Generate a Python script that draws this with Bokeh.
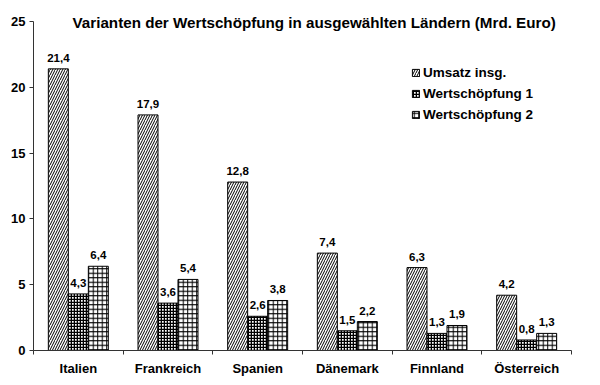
from bokeh.plotting import figure
from bokeh.models import (Range1d, FixedTicker, Label, Legend, LegendItem,
                          ColumnDataSource, LabelSet)
from bokeh.core.properties import value
from bokeh.embed import file_html
from bokeh.resources import INLINE

countries = ["Italien", "Frankreich", "Spanien", "Dänemark", "Finnland", "Österreich"]
umsatz = [21.4, 17.9, 12.8, 7.4, 6.3, 4.2]
ws1 = [4.3, 3.6, 2.6, 1.5, 1.3, 0.8]
ws2 = [6.4, 5.4, 3.8, 2.2, 1.9, 1.3]
series_names = ["Umsatz insg.", "Wertschöpfung 1", "Wertschöpfung 2"]
y_ticks = [0, 5, 10, 15, 20, 25]
y_max = 25
title_text = "Varianten der Wertschöpfung in ausgewählten Ländern (Mrd. Euro)"

FONT = "Liberation Sans"
BW = 0.223

p = figure(width=600, height=385, output_backend="svg", toolbar_location=None,
           x_range=Range1d(0, 6), y_range=Range1d(0, 26.29),
           min_border_left=33, min_border_right=29, min_border_top=4,
           min_border_bottom=35)
p.outline_line_color = None
p.xgrid.visible = False
p.ygrid.visible = False
p.background_fill_color = "white"
p.border_fill_color = "white"

centers = [i + 0.5 for i in range(len(countries))]
p.xaxis.ticker = FixedTicker(ticks=centers, minor_ticks=list(range(len(countries) + 1)))
p.xaxis.major_label_overrides = {c: n for c, n in zip(centers, countries)}
p.xaxis.major_tick_out = 0
p.xaxis.major_tick_in = 0
p.xaxis.minor_tick_out = 4
p.xaxis.minor_tick_in = 0
p.xaxis.major_label_standoff = 6
p.yaxis.ticker = FixedTicker(ticks=y_ticks)
p.yaxis.bounds = (0, y_max)
p.yaxis.major_tick_out = 4
p.yaxis.major_tick_in = 0
p.yaxis.minor_tick_out = 0
p.yaxis.minor_tick_in = 0
p.yaxis.major_label_standoff = 4
for ax in (p.xaxis, p.yaxis):
    ax.axis_line_color = "#333333"
    ax.major_tick_line_color = "#333333"
    ax.minor_tick_line_color = "#333333"
    ax.major_label_text_font = FONT
    ax.major_label_text_font_style = "bold"
    ax.major_label_text_font_size = "13px"
    ax.major_label_text_color = "black"

series = [umsatz, ws1, ws2]
offsets = [-BW, 0, BW]
hatches = [
    dict(hatch_pattern="right_diagonal_line", hatch_scale=5, hatch_weight=1),
    dict(hatch_pattern="cross", hatch_scale=3, hatch_weight=1.6),
    dict(hatch_pattern="cross", hatch_scale=4.5, hatch_weight=1),
]
renderers = []
for vals, off, h, name in zip(series, offsets, hatches, series_names):
    src = ColumnDataSource(dict(
        x=[c + off for c in centers], top=vals,
        lbl=[f"{v:.1f}".replace(".", ",") for v in vals]))
    r = p.vbar(x="x", top="top", width=BW, bottom=0, source=src,
               fill_color="white", line_color="black", line_width=1,
               hatch_color="black", **h)
    renderers.append(r)
    p.add_layout(LabelSet(x="x", y="top", text="lbl", source=src,
                          text_align="center", text_baseline="bottom", y_offset=7,
                          text_font=value(FONT), text_font_style="bold",
                          text_font_size="11.5px", text_color="black"))

legend = Legend(items=[LegendItem(label=n, renderers=[r]) for n, r in zip(series_names, renderers)],
                location=(378, 228), orientation="vertical",
                glyph_width=9, glyph_height=9, label_height=14, spacing=6,
                label_standoff=3, padding=0, margin=0,
                background_fill_alpha=0, border_line_color=None,
                label_text_font=FONT, label_text_font_style="bold",
                label_text_font_size="13.5px", label_text_color="black")
p.add_layout(legend)

p.add_layout(Label(x=3.13, y=24.9, text=title_text, text_align="center",
                   text_baseline="middle", text_font=FONT, text_font_style="bold",
                   text_font_size="15.2px", text_color="black"))

open("out.html", "w").write(file_html(p, INLINE))
